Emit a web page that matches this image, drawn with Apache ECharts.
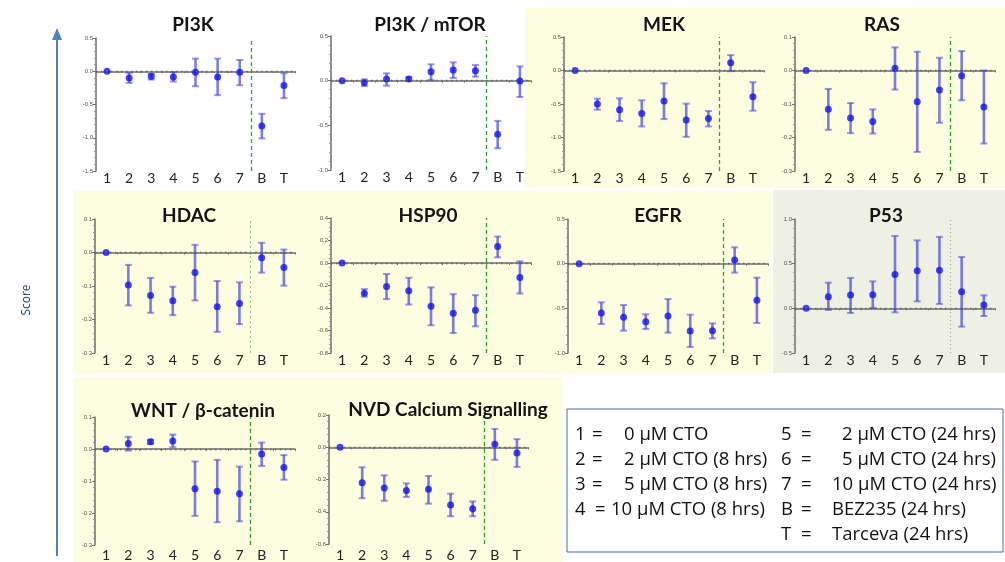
<!DOCTYPE html>
<html><head><meta charset="utf-8">
<script src="https://cdn.jsdelivr.net/npm/echarts@6/dist/echarts.min.js"></script>
<style>html,body{margin:0;padding:0;background:#fff}#c{width:1005px;height:562px}</style>
</head><body><div id="c"></div>
<script>
// ---------- data ----------
const categories = ['1','2','3','4','5','6','7','B','T'];

const pi3kMean = [0,-0.10,-0.075,-0.085,-0.015,-0.085,-0.015,-0.825,-0.215];
const pi3kHigh = [0,-0.025,-0.04,-0.015,0.19,0.19,0.17,-0.64,-0.03];
const pi3kLow  = [0,-0.175,-0.125,-0.155,-0.225,-0.36,-0.21,-1.01,-0.405];

const mtorMean = [0,-0.022,0.019,0.019,0.10,0.12,0.112,-0.60,-0.004];
const mtorHigh = [0,0.015,0.082,0.04,0.183,0.205,0.175,-0.45,0.16];
const mtorLow  = [0,-0.06,-0.056,-0.004,0.007,0.03,0.045,-0.757,-0.183];

const mekMean = [0,-0.50,-0.585,-0.64,-0.455,-0.74,-0.715,0.115,-0.39];
const mekHigh = [0,-0.42,-0.415,-0.445,-0.19,-0.495,-0.605,0.23,-0.175];
const mekLow  = [0,-0.585,-0.755,-0.835,-0.725,-0.99,-0.835,-0.01,-0.60];

const rasMean = [0,-0.116,-0.142,-0.152,0.007,-0.093,-0.058,-0.016,-0.109];
const rasHigh = [0,-0.055,-0.097,-0.116,0.069,0.056,0.038,0.058,0];
const rasLow  = [0,-0.177,-0.187,-0.188,-0.057,-0.243,-0.156,-0.089,-0.218];

const hdacMean = [0,-0.097,-0.128,-0.144,-0.06,-0.162,-0.152,-0.016,-0.045];
const hdacHigh = [0,-0.037,-0.076,-0.102,0.023,-0.085,-0.089,0.029,0.009];
const hdacLow  = [0,-0.158,-0.18,-0.187,-0.143,-0.237,-0.214,-0.06,-0.099];

const hspMean = [0,-0.268,-0.208,-0.247,-0.384,-0.446,-0.42,0.146,-0.128];
const hspHigh = [0,-0.232,-0.098,-0.131,-0.217,-0.277,-0.286,0.235,0.015];
const hspLow  = [0,-0.30,-0.321,-0.369,-0.554,-0.622,-0.563,0.05,-0.271];

const egfrMean = [0,-0.552,-0.60,-0.649,-0.586,-0.754,-0.75,0.041,-0.41];
const egfrHigh = [0,-0.433,-0.463,-0.567,-0.396,-0.571,-0.668,0.183,-0.157];
const egfrLow  = [0,-0.675,-0.75,-0.731,-0.772,-0.933,-0.836,-0.10,-0.664];

const p53Mean = [0,0.131,0.149,0.153,0.38,0.422,0.425,0.187,0.037];
const p53High = [0,0.287,0.34,0.302,0.81,0.761,0.80,0.575,0.146];
const p53Low  = [0,-0.019,-0.052,0.004,-0.045,0.078,0.049,-0.205,-0.086];

const wntMean = [0,0.017,0.023,0.025,-0.124,-0.132,-0.14,-0.016,-0.058];
const wntHigh = [0,0.038,0.029,0.045,-0.039,-0.034,-0.055,0.02,-0.019];
const wntLow  = [0,-0.005,0.016,0.005,-0.209,-0.229,-0.226,-0.053,-0.096];

const nvdMean = [0,-0.22,-0.252,-0.268,-0.26,-0.358,-0.382,0.018,-0.036];
const nvdHigh = [0,-0.124,-0.174,-0.224,-0.178,-0.288,-0.336,0.114,0.05];
const nvdLow  = [0,-0.316,-0.332,-0.308,-0.35,-0.428,-0.428,-0.078,-0.122];

const legendLeftKeys  = ['1','2','3','4'];
const legendLeftVals  = ['0 \u03BCM CTO','2 \u03BCM CTO (8 hrs)','5 \u03BCM CTO (8 hrs)','10 \u03BCM CTO (8 hrs)'];
const legendRightKeys = ['5','6','7','B','T'];
const legendRightVals = ['2 \u03BCM CTO (24 hrs)','5 \u03BCM CTO (24 hrs)','10 \u03BCM CTO (24 hrs)','BEZ235 (24 hrs)','Tarceva (24 hrs)'];

// ---------- layout ----------
const greenDiv = {color:'#2e9e2e', type:[4,3], width:1.3};
const paleDiv  = {color:'#8cc48c', type:[2,3], width:1};
const greyDiv  = {color:'#9a9a9a', type:[1,3], width:1};

const panels = [
  {title:'PI3K', mean:pi3kMean, hi:pi3kHigh, lo:pi3kLow, min:-1.5, max:0.5, iv:0.5,
   grid:{left:96, top:38, width:199, height:133}, tx:193, ty:25, div:greenDiv, lm:0},
  {title:'PI3K / mTOR', mean:mtorMean, hi:mtorHigh, lo:mtorLow, min:-1, max:0.5, iv:0.5,
   grid:{left:331, top:36, width:200, height:134}, tx:430, ty:25, div:greenDiv, lm:0},
  {title:'MEK', mean:mekMean, hi:mekHigh, lo:mekLow, min:-1.5, max:0.5, iv:0.5,
   grid:{left:564, top:37, width:200, height:134}, tx:664, ty:25, div:greenDiv, lm:0},
  {title:'RAS', mean:rasMean, hi:rasHigh, lo:rasLow, min:-0.3, max:0.1, iv:0.1,
   grid:{left:795, top:37, width:200, height:134}, tx:882, ty:25, div:greenDiv, lm:0},
  {title:'HDAC', mean:hdacMean, hi:hdacHigh, lo:hdacLow, min:-0.3, max:0.1, iv:0.1,
   grid:{left:95, top:219, width:200, height:134}, tx:189, ty:216, div:paleDiv, lm:0},
  {title:'HSP90', mean:hspMean, hi:hspHigh, lo:hspLow, min:-0.8, max:0.4, iv:0.2,
   grid:{left:331, top:218, width:200, height:135}, tx:428, ty:216, div:greenDiv, lm:0},
  {title:'EGFR', mean:egfrMean, hi:egfrHigh, lo:egfrLow, min:-1, max:0.5, iv:0.5,
   grid:{left:568, top:219, width:200, height:134}, tx:658, ty:216, div:greenDiv, lm:0},
  {title:'P53', mean:p53Mean, hi:p53High, lo:p53Low, min:-0.5, max:1.0, iv:0.5,
   grid:{left:795, top:219, width:200, height:134}, tx:886, ty:216, div:greyDiv, lm:0},
  {title:'WNT / \u03B2-catenin', mean:wntMean, hi:wntHigh, lo:wntLow, min:-0.3, max:0.1, iv:0.1,
   grid:{left:95, top:417, width:200, height:134}, tx:203, ty:411, div:greenDiv, lm:3},
  {title:'NVD Calcium Signalling', mean:nvdMean, hi:nvdHigh, lo:nvdLow, min:-0.6, max:0.2, iv:0.2,
   grid:{left:329, top:415, width:199, height:134}, tx:448, ty:410, div:greenDiv, lm:4}
];
const dividerPos = 7; // boundary between the 7th band and "B" on a 0..9 band scale

const axisColor = '#6e6e6e';
const grids = [], xAxes = [], yAxes = [], series = [], graphics = [];

// backgrounds
const yellow = '#fdfddf';
[
  {x:525, y:8,   w:480, h:180, c:yellow},
  {x:73,  y:191, w:699, h:182, c:yellow},
  {x:773, y:190, w:232, h:183, c:'#eef0e4'},
  {x:73,  y:377, w:490, h:185, c:yellow}
].forEach(r => graphics.push({type:'rect', z:-100, shape:{x:r.x, y:r.y, width:r.w, height:r.h}, style:{fill:r.c}}));

function renderErr(params, api){
  const x = api.value(0), lo = api.value(1), hi = api.value(2);
  if (hi === lo) return null;
  const a = api.coord([x, lo]), b = api.coord([x, hi]);
  const cap = 3.5;
  const st = {stroke:'rgba(45,45,225,0.62)', lineWidth:2.6};
  const stc = {stroke:'rgba(70,70,225,0.55)', lineWidth:2};
  return {type:'group', children:[
    {type:'line', shape:{x1:a[0], y1:a[1], x2:b[0], y2:b[1]}, style:st},
    {type:'line', shape:{x1:a[0]-cap, y1:a[1], x2:a[0]+cap, y2:a[1]}, style:stc},
    {type:'line', shape:{x1:b[0]-cap, y1:b[1], x2:b[0]+cap, y2:b[1]}, style:stc}
  ]};
}

panels.forEach((p, i) => {
  grids.push(Object.assign({containLabel:false}, p.grid));
  xAxes.push({
    type:'category', gridIndex:i, data:categories, boundaryGap:true,
    axisLine:{show:true, lineStyle:{color:axisColor, width:1.5}},
    axisTick:{show:true, length:2, lineStyle:{color:axisColor}},
    axisLabel:{fontFamily:'Lato', fontSize:14, color:'#222', margin:p.lm},
    splitLine:{show:false}
  });
  xAxes.push({type:'value', gridIndex:i, min:0, max:9, show:false});
  yAxes.push({
    type:'value', gridIndex:i, min:p.min, max:p.max, interval:p.iv,
    axisLine:{show:true, lineStyle:{color:axisColor, width:1.5}},
    axisTick:{show:true, length:3, lineStyle:{color:axisColor}},
    minorTick:{show:true, splitNumber:5, length:2, lineStyle:{color:'#999'}},
    axisLabel:{fontSize:6, color:'#555', margin:3, formatter:v => v.toFixed(1)},
    splitLine:{show:false}
  });
  series.push({
    type:'custom', xAxisIndex:2*i, yAxisIndex:i, renderItem:renderErr, z:3,
    data:categories.map((c, k) => [k, p.lo[k], p.hi[k]])
  });
  series.push({
    type:'scatter', xAxisIndex:2*i, yAxisIndex:i, symbol:'circle', symbolSize:7, z:4,
    itemStyle:{color:'#1414f0'},
    data:p.mean,
    markLine:{silent:true, symbol:'none', label:{show:false},
      lineStyle:{color:'#666', type:[1.5,3.5], width:1.4},
      data:[{yAxis:0}]}
  });
  series.push({
    type:'line', xAxisIndex:2*i+1, yAxisIndex:i, data:[[dividerPos, p.min]], showSymbol:false, symbol:'none',
    lineStyle:{width:0},
    markLine:{silent:true, symbol:'none', label:{show:false},
      lineStyle:{color:p.div.color, type:p.div.type, width:p.div.width},
      data:[{xAxis:dividerPos}]}
  });
  graphics.push({type:'text', x:p.tx, y:p.ty, z:10,
    style:{text:p.title, font:'bold 19px Lato', fill:'#141414', textAlign:'center', textVerticalAlign:'middle', align:'center', verticalAlign:'middle'}});
});

// Score arrow
graphics.push({type:'line', shape:{x1:57, y1:556, x2:57, y2:38}, style:{stroke:'#4f81bd', lineWidth:2}});
graphics.push({type:'polygon', shape:{points:[[57,28],[52,40],[62,40]]}, style:{fill:'#4f81bd'}});
graphics.push({type:'text', x:27, y:300, rotation:Math.PI/2,
  style:{text:'Score', font:'12px "Open Sans"', fill:'#1f3f7f', textAlign:'center', textVerticalAlign:'middle', align:'center', verticalAlign:'middle'}});

// Legend box
graphics.push({type:'rect', shape:{x:567, y:409, width:436, height:143}, style:{fill:'#fff', stroke:'#4a6fa0', lineWidth:1}});
const rowsY = [434.5, 460, 485, 510, 535];
const lf = '18.5px "Open Sans"';
function txt(t, x, y){
  graphics.push({type:'text', x:x, y:y, z:10, style:{text:t, font:lf, fill:'#111', textAlign:'left', textVerticalAlign:'middle', align:'left', verticalAlign:'middle'}});
}
legendLeftKeys.forEach((k, j) => {
  txt(k, 575, rowsY[j]);
  const is10 = legendLeftVals[j].indexOf('10') === 0;
  txt('=', is10 ? 595 : 592, rowsY[j]);
  txt(legendLeftVals[j], is10 ? 611 : 624, rowsY[j]);
});
legendRightKeys.forEach((k, j) => {
  txt(k, 781, rowsY[j]);
  txt('=', 801, rowsY[j]);
  const v = legendRightVals[j];
  const x = v.indexOf('2 ') === 0 || v.indexOf('5 ') === 0 ? 842 : 832;
  txt(v, x, rowsY[j]);
});

const chart = echarts.init(document.getElementById('c'), null, {renderer:'canvas'});
chart.setOption({
  animation:false,
  backgroundColor:'#ffffff',
  grid:grids, xAxis:xAxes, yAxis:yAxes, series:series,
  graphic:{elements:graphics}
});
</script>
</body></html>
